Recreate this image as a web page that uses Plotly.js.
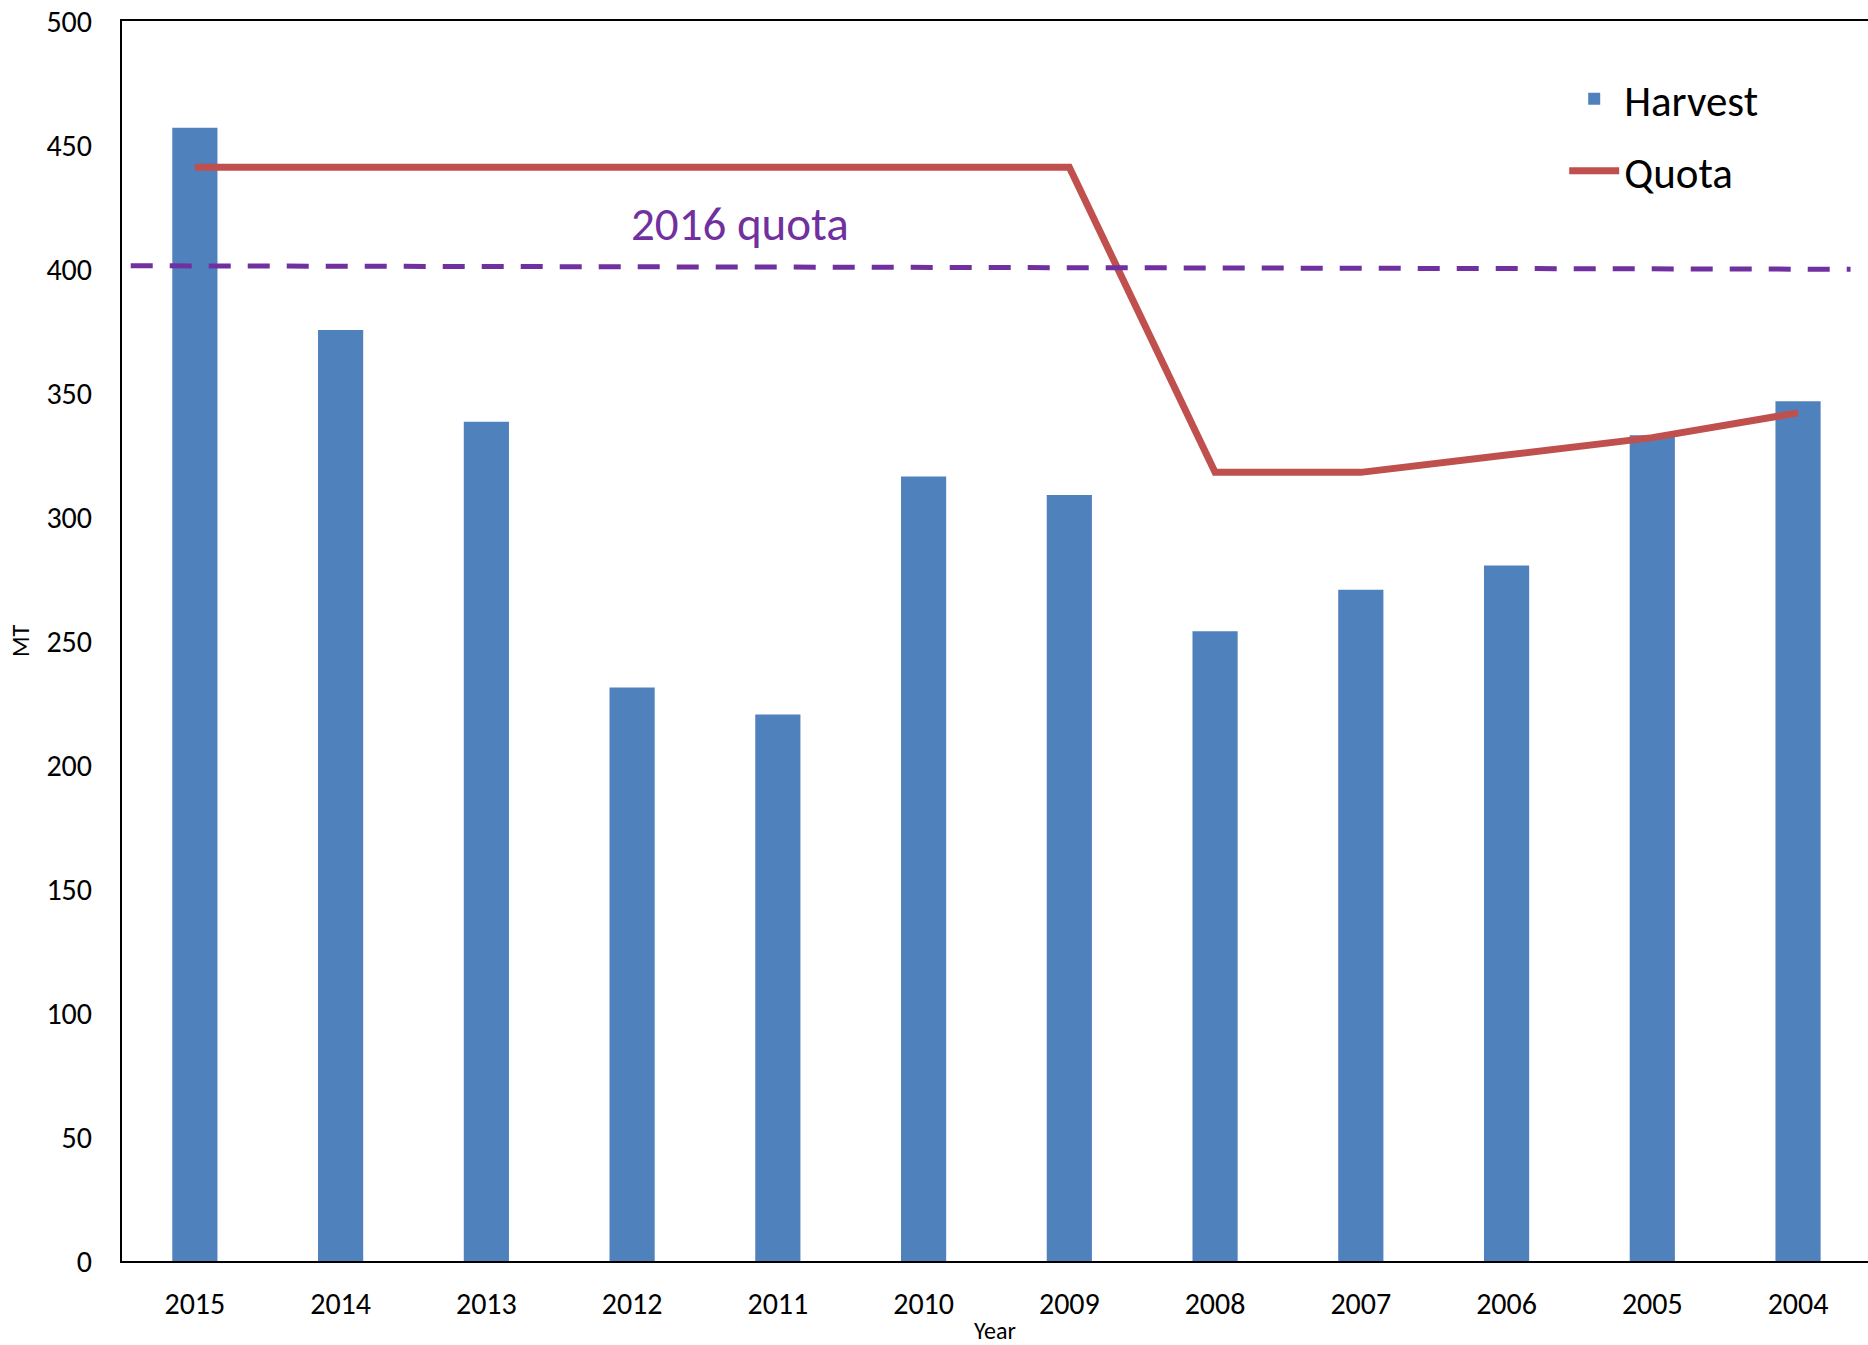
<!DOCTYPE html>
<html>
<head>
<meta charset="utf-8">
<script src="https://cdn.plot.ly/plotly-3.0.1.min.js"></script>
<style>
html,body{margin:0;padding:0;background:#fff;}
#chart{width:1868px;height:1345px;}
</style>
</head>
<body>
<div id="chart"></div>
<script>
// Data
const years = ['2015','2014','2013','2012','2011','2010','2009','2008','2007','2006','2005','2004'];
const harvest = [457, 375.4, 338.4, 231.2, 220.4, 316.3, 308.9, 253.9, 270.7, 280.4, 333, 346.7];
const quota = [441, 441, 441, 441, 441, 441, 441, 318, 318, 325, 332, 342];
const quota2016 = [401.3, 399.9];   // dashed reference line (start, end)
const quota2016Label = '2016 quota';
const yTicks = [0, 50, 100, 150, 200, 250, 300, 350, 400, 450, 500];

const FONT = 'Carlito, Lato, "Open Sans", sans-serif';

const traces = [
  {
    type: 'bar', name: 'Harvest', x: years, y: harvest,
    marker: {color: '#4F81BD', line: {width: 0}},
    width: 0.31, legendgroup: 'a'
  },
  {
    type: 'scatter', mode: 'lines', name: 'Quota', x: years, y: quota,
    line: {color: '#C0504D', width: 7}, legendgroup: 'b'
  }
];

const layout = {
  width: 1868, height: 1345,
  margin: {l: 122, r: 0, t: 21, b: 84},
  paper_bgcolor: '#fff', plot_bgcolor: '#fff',
  font: {family: FONT, color: '#000'},
  xaxis: {
    type: 'category', range: [-0.5, 11.48],
    showgrid: false, zeroline: false,
    showline: true, linecolor: '#000', linewidth: 2, mirror: true,
    ticks: '', ticklabelstandoff: 15,
    tickfont: {size: 30, family: FONT},
    title: {text: 'Year', font: {size: 24, family: FONT}, standoff: 4},
    automargin: false
  },
  yaxis: {
    range: [0, 500], tickvals: yTicks,
    showgrid: false, zeroline: false,
    showline: true, linecolor: '#000', linewidth: 2,
    ticks: '', ticklabelstandoff: 22,
    tickfont: {size: 30, family: FONT},
    title: {text: 'MT', font: {size: 24, family: FONT}, standoff: 10},
    automargin: false
  },
  showlegend: true,
  legend: {
    x: 0.826, y: 0.965, xanchor: 'left', yanchor: 'top',
    font: {size: 43, family: FONT},
    bgcolor: 'rgba(0,0,0,0)', tracegroupgap: 13, itemwidth: 50
  },
  shapes: [{
    type: 'line', xref: 'paper', yref: 'y',
    x0: 0.005, x1: 0.99, y0: quota2016[0], y1: quota2016[1],
    line: {color: '#7030A0', width: 5, dash: '22px,17px'}
  }],
  annotations: [{
    text: quota2016Label, xref: 'paper', yref: 'y',
    x: 0.354, y: 418, showarrow: false,
    font: {size: 47, color: '#7030A0', family: FONT}
  }]
};

Plotly.newPlot('chart', traces, layout, {displayModeBar: false, staticPlot: true});
</script>
</body>
</html>
